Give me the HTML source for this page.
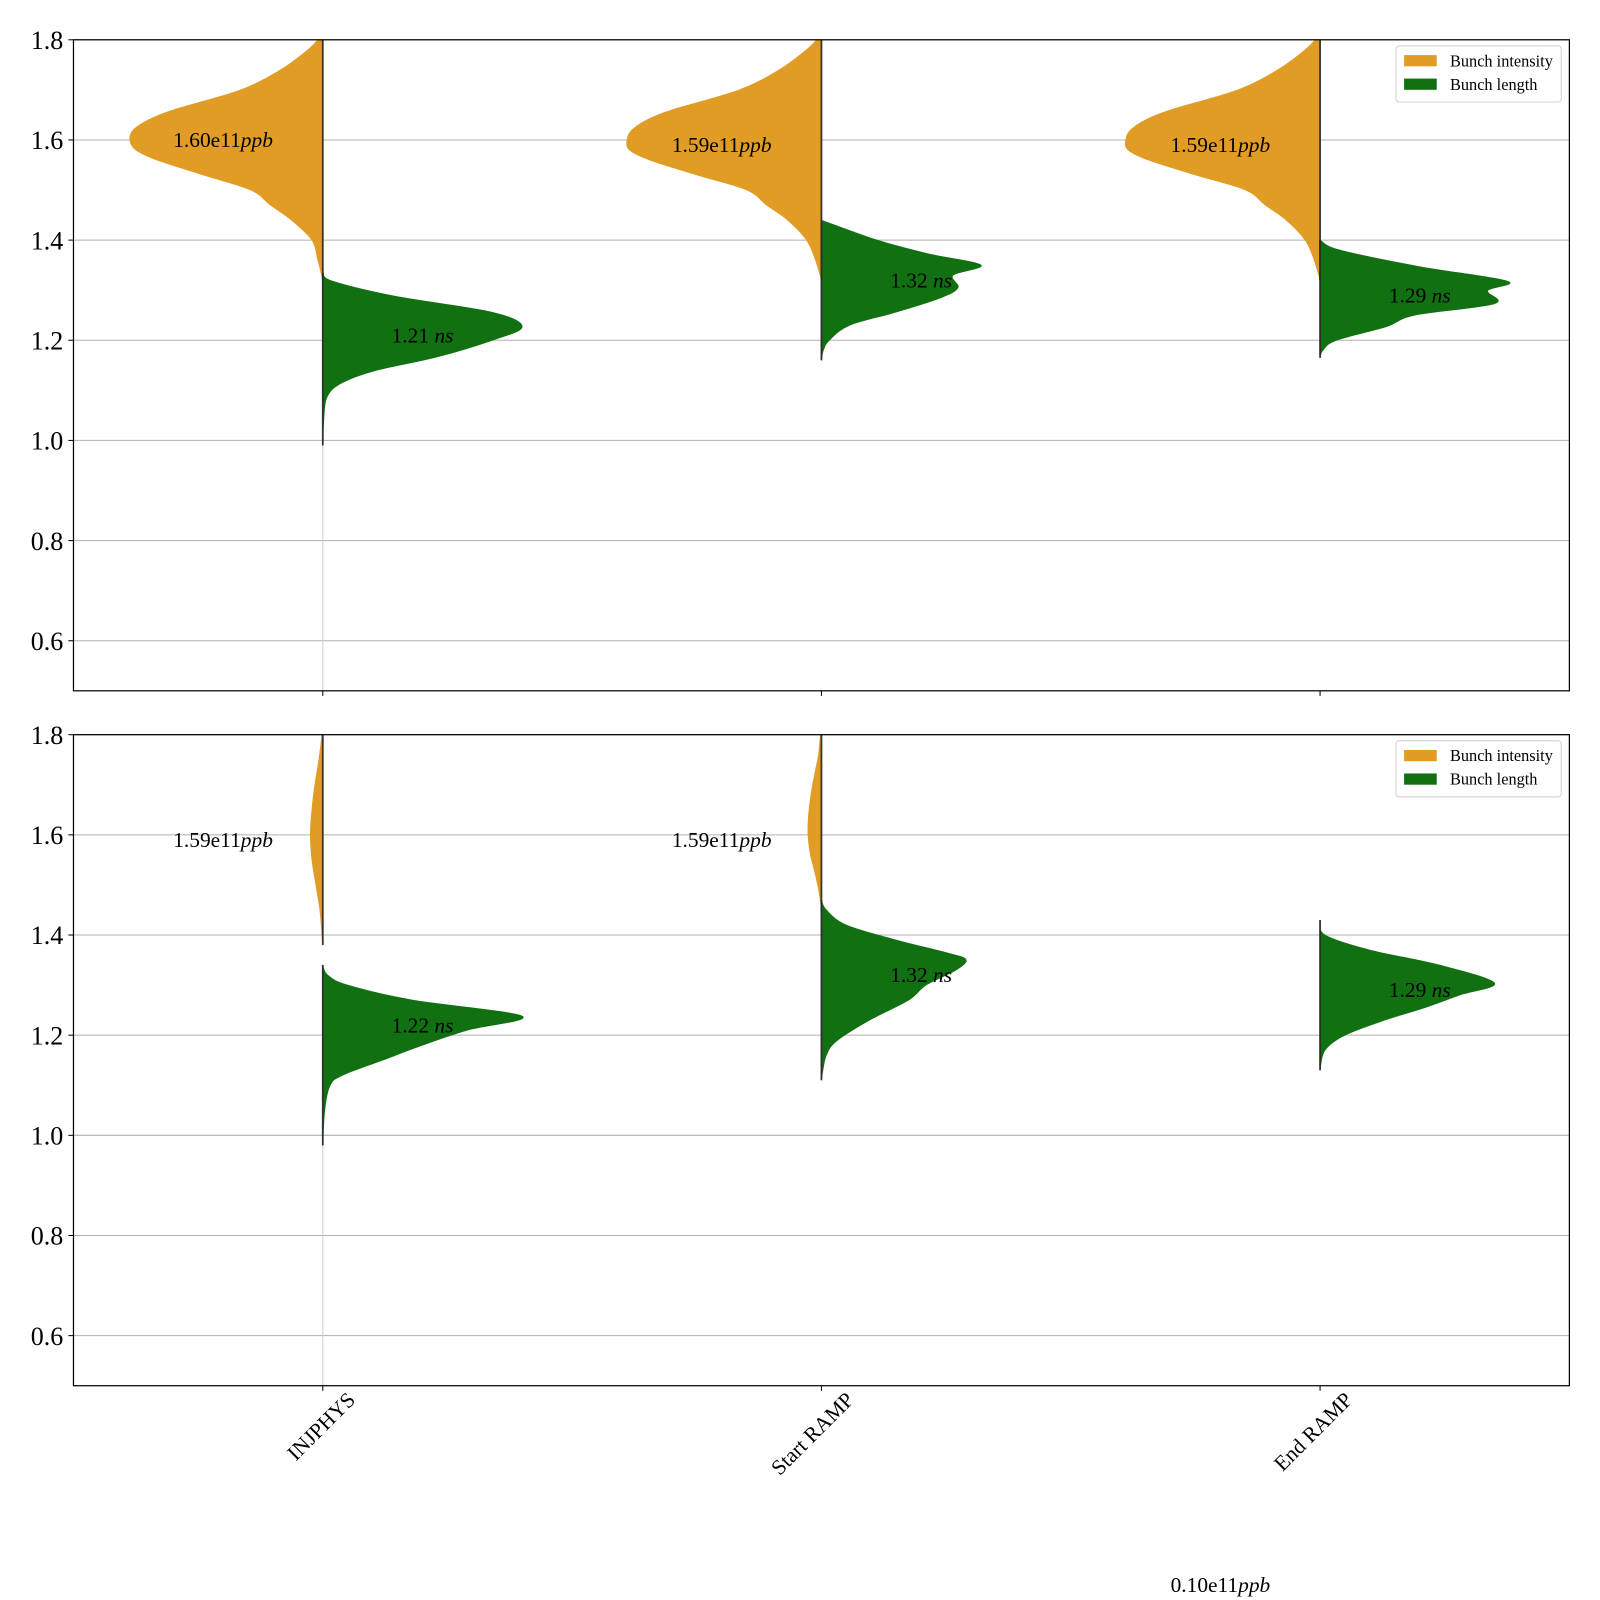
<!DOCTYPE html>
<html><head><meta charset="utf-8"><style>
html,body{margin:0;padding:0;background:#fff;}
svg{display:block;font-family:"Liberation Serif",serif;}
</style></head><body>
<svg id="chart" width="1600" height="1600" viewBox="0 0 1568 1568" xmlns="http://www.w3.org/2000/svg"></svg>
<script>
// ---- data ----
const categories = ["INJPHYS", "Start RAMP", "End RAMP"];
const yTicks = [0.6, 0.8, 1.0, 1.2, 1.4, 1.6, 1.8];
const yTickLabels = ["0.6", "0.8", "1.0", "1.2", "1.4", "1.6", "1.8"];
// Panel 1 (top) — intensity (left halves)
const p1IntY = [1.80, 1.78, 1.74, 1.70, 1.66, 1.64, 1.62, 1.60, 1.58, 1.56, 1.53, 1.50, 1.47, 1.44, 1.40, 1.36, 1.32];
const p1IntW0 = [0.01, 0.03, 0.085, 0.165, 0.30, 0.35, 0.38, 0.387, 0.375, 0.333, 0.24, 0.145, 0.105, 0.063, 0.022, 0.01, 0];
const p1IntW1 = [0.01, 0.03, 0.085, 0.165, 0.30, 0.35, 0.38, 0.39, 0.385, 0.345, 0.25, 0.15, 0.11, 0.068, 0.03, 0.012, 0];
const p1IntW2 = [0.01, 0.03, 0.085, 0.165, 0.30, 0.35, 0.38, 0.39, 0.385, 0.345, 0.25, 0.15, 0.11, 0.068, 0.03, 0.012, 0];
// Panel 1 — bunch length (right halves)
const p1LenY0 = [1.335, 1.318, 1.288, 1.256, 1.227, 1.20, 1.166, 1.139, 1.113, 1.085, 1.04, 0.99];
const p1LenW0 = [0, 0.02, 0.145, 0.34, 0.40, 0.34, 0.227, 0.104, 0.035, 0.008, 0.002, 0];
const p1LenY1 = [1.44, 1.40, 1.373, 1.35, 1.33, 1.305, 1.285, 1.256, 1.23, 1.20, 1.18, 1.16];
const p1LenW1 = [0, 0.112, 0.213, 0.32, 0.264, 0.274, 0.24, 0.149, 0.057, 0.016, 0.004, 0];
const p1LenY2 = [1.40, 1.38, 1.347, 1.318, 1.299, 1.273, 1.25, 1.227, 1.20, 1.18, 1.165];
const p1LenW2 = [0, 0.04, 0.20, 0.376, 0.336, 0.35, 0.19, 0.133, 0.033, 0.006, 0];
// Panel 2 (bottom)
const p2IntY0 = [1.80, 1.75, 1.70, 1.65, 1.60, 1.55, 1.50, 1.45, 1.40, 1.38];
const p2IntW0 = [0.002, 0.008, 0.016, 0.022, 0.025, 0.022, 0.014, 0.006, 0.002, 0];
const p2IntY1 = [1.80, 1.76, 1.72, 1.68, 1.64, 1.60, 1.56, 1.52, 1.48, 1.45];
const p2IntW1 = [0.002, 0.006, 0.014, 0.021, 0.026, 0.027, 0.022, 0.012, 0.004, 0];
const p2LenY0 = [1.34, 1.32, 1.30, 1.27, 1.238, 1.21, 1.18, 1.15, 1.12, 1.10, 1.05, 0.98];
const p2LenW0 = [0, 0.01, 0.05, 0.18, 0.40, 0.29, 0.20, 0.12, 0.04, 0.015, 0.004, 0];
const p2LenY1 = [1.47, 1.45, 1.42, 1.39, 1.365, 1.351, 1.33, 1.30, 1.27, 1.229, 1.188, 1.16, 1.13, 1.11];
const p2LenW1 = [0, 0.01, 0.05, 0.15, 0.25, 0.29, 0.27, 0.21, 0.175, 0.095, 0.03, 0.01, 0.003, 0];
const p2LenY2 = [1.43, 1.40, 1.37, 1.34, 1.304, 1.28, 1.255, 1.23, 1.20, 1.17, 1.13];
const p2LenW2 = [0, 0.01, 0.10, 0.24, 0.35, 0.28, 0.21, 0.13, 0.05, 0.01, 0];
const intMeans1 = [1.60, 1.59, 1.59];
const lenMeans1 = [1.21, 1.32, 1.29];
const intMeans2 = [1.59, 1.59];
const lenMeans2 = [1.22, 1.32, 1.29];
const intLabels1 = ["1.60", "1.59", "1.59"];
const lenLabels1 = ["1.21", "1.32", "1.29"];
const intLabels2 = ["1.59", "1.59"];
const lenLabels2 = ["1.22", "1.32", "1.29"];

// ---- layout ----
const NS = "http://www.w3.org/2000/svg";
const svg = document.getElementById("chart");
const X0 = 72, X1 = 1538;
const panels = [{top: 39, bottom: 677}, {top: 720, bottom: 1358}];
const ORANGE = "#e09c24", GREEN = "#117011";
function xs(v){ return X0 + (v + 0.5) / 3 * (X1 - X0); }
function ys(p, v){ return p.top + (1.8 - v) / 1.3 * (p.bottom - p.top); }
function mk(tag, attrs, parent){
  const e = document.createElementNS(NS, tag);
  for (const k in attrs) e.setAttribute(k, attrs[k]);
  (parent || svg).appendChild(e);
  return e;
}

function violin(p, i, Y, W, side, color, name){
  const cx = xs(i);
  const pts = Y.map((v, k) => [xs(i + side * W[k]), ys(p, v)]);
  let d = "M" + cx + "," + ys(p, Y[0]).toFixed(1) + " L" + pts[0][0].toFixed(1) + "," + pts[0][1].toFixed(1);
  for (let k = 0; k < pts.length - 1; k++){
    const p0 = pts[Math.max(0, k-1)], p1 = pts[k], p2 = pts[k+1], p3 = pts[Math.min(pts.length-1, k+2)];
    const c1 = [p1[0] + (p2[0]-p0[0])/6, p1[1] + (p2[1]-p0[1])/6];
    const c2 = [p2[0] - (p3[0]-p1[0])/6, p2[1] - (p3[1]-p1[1])/6];
    d += " C" + c1[0].toFixed(1) + "," + c1[1].toFixed(1) + " " + c2[0].toFixed(1) + "," + c2[1].toFixed(1) + " " + p2[0].toFixed(1) + "," + p2[1].toFixed(1);
  }
  d += " L" + cx + "," + ys(p, Y[Y.length-1]).toFixed(1) + " Z";
  const e = mk("path", {d: d, fill: color, stroke: color, "stroke-width": 0.6, "stroke-linejoin": "round"});
  
  
  const s = mk("line", {x1: cx, x2: cx, y1: ys(p, Y[0]), y2: ys(p, Y[Y.length-1]), stroke: "#2a2a2a", "stroke-width": 1.8, opacity: 0.9});
  
  
}

function label(x, y, num, unit, name, anchor){
  const t = mk("text", {x: x, y: y, "font-size": 21, "text-anchor": anchor || "middle", fill: "#000"});
  
  
  t.appendChild(document.createTextNode(num));
  const it = mk("tspan", {"font-style": "italic"}, t);
  it.textContent = unit;
  return t;
}

function drawPanel(pi){
  const p = panels[pi];
  yTicks.forEach((v, k) => {
    const y = ys(p, v);
    const gl = mk("line", {x1: X0, x2: X1, y1: y, y2: y, stroke: "#b0b0b0", "stroke-width": 1});
    
    
    const tk = mk("line", {x1: X0 - 5, x2: X0, y1: y, y2: y, stroke: "#000", "stroke-width": 1});
    
    
    const tl = mk("text", {x: X0 - 10, y: y + 9, "font-size": 25.5, "text-anchor": "end"});
    
    
    tl.textContent = yTickLabels[k];
  });
  const vl = mk("line", {x1: xs(0), x2: xs(0), y1: ys(p, 1.0), y2: p.bottom, stroke: "#cccccc", "stroke-width": 1});
  
  
  categories.forEach((c, i) => {
    const t = mk("line", {x1: xs(i), x2: xs(i), y1: p.bottom, y2: p.bottom + 5, stroke: "#000", "stroke-width": 1});
    
    
  });
}

drawPanel(0); drawPanel(1);
const P1 = panels[0], P2 = panels[1];
violin(P1, 0, p1IntY, p1IntW0, -1, ORANGE, 'intensity-violin-injphys');
violin(P1, 1, p1IntY, p1IntW1, -1, ORANGE, 'intensity-violin-start-ramp');
violin(P1, 2, p1IntY, p1IntW2, -1, ORANGE, 'intensity-violin-end-ramp');
violin(P1, 0, p1LenY0, p1LenW0, 1, GREEN, 'length-violin-injphys');
violin(P1, 1, p1LenY1, p1LenW1, 1, GREEN, 'length-violin-start-ramp');
violin(P1, 2, p1LenY2, p1LenW2, 1, GREEN, 'length-violin-end-ramp');
violin(P2, 0, p2IntY0, p2IntW0, -1, ORANGE, 'intensity-violin-injphys-2');
violin(P2, 1, p2IntY1, p2IntW1, -1, ORANGE, 'intensity-violin-start-ramp-2');
violin(P2, 0, p2LenY0, p2LenW0, 1, GREEN, 'length-violin-injphys-2');
violin(P2, 1, p2LenY1, p2LenW1, 1, GREEN, 'length-violin-start-ramp-2');
violin(P2, 2, p2LenY2, p2LenW2, 1, GREEN, 'length-violin-end-ramp-2');

intMeans1.forEach((m, i) => label(xs(i - 0.2), ys(P1, m) + 7, intLabels1[i] + "e11", "ppb", 'intensity-mean-label'));
lenMeans1.forEach((m, i) => label(xs(i + 0.2), ys(P1, m) + 7, lenLabels1[i] + " ", "ns", 'length-mean-label'));
intMeans2.forEach((m, i) => label(xs(i - 0.2), ys(P2, m) + 7, intLabels2[i] + "e11", "ppb", 'intensity-mean-label'));
lenMeans2.forEach((m, i) => label(xs(i + 0.2), ys(P2, m) + 7, lenLabels2[i] + " ", "ns", 'length-mean-label'));
label(1196, 1560, "0.10e11", "ppb", 'stray-intensity-label');

panels.forEach((p, pi) => {
  const r = mk("rect", {x: X0, y: p.top, width: X1 - X0, height: p.bottom - p.top, fill: "none", stroke: "#000", "stroke-width": 1.2});
  
  
  const lg = mk("g", {});
  
  
  const ly = p.top + 6;
  const box = mk("rect", {x: 1368, y: ly, width: 162, height: 55, rx: 3, fill: "#fff", stroke: "#d0d0d0", "stroke-width": 1}, lg);
  
  
  [["Bunch intensity", ORANGE], ["Bunch length", GREEN]].forEach((e, k) => {
    const ent = mk("g", {}, lg);
    
    
    mk("rect", {x: 1376, y: ly + 9 + k * 23, width: 32, height: 11, fill: e[1]}, ent);
    const t = mk("text", {x: 1421, y: ly + 20 + k * 23, "font-size": 16}, ent);
    t.textContent = e[0];
  });
});

categories.forEach((c, i) => {
  const x = xs(i) + 33, y = P2.bottom + 15;
  const t = mk("text", {x: x, y: y, "font-size": 21, "text-anchor": "end", transform: "rotate(-45 " + x + " " + y + ")"});
  
  
  t.textContent = c;
});
</script>
</body></html>
